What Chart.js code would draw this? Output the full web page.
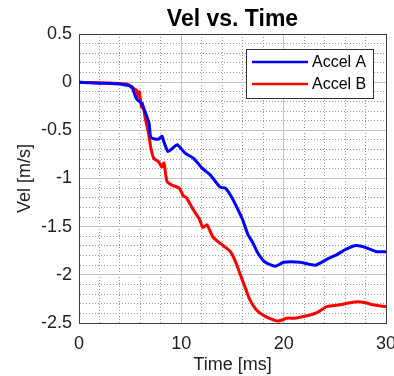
<!DOCTYPE html>
<html><head><meta charset="utf-8">
<script src="https://cdn.jsdelivr.net/npm/chart.js@4/dist/chart.umd.min.js"></script>
<style>html,body{margin:0;padding:0;background:#fff}#wrap{width:394px;height:376px}</style>
</head><body><div id="wrap"><canvas id="c" width="394" height="376"></canvas></div>
<script>
const chartTitle = 'Vel vs. Time';
const xTitle = 'Time [ms]';
const yTitle = 'Vel [m/s]';
const seriesNames = ['Accel A', 'Accel B'];
const timeA = [0, 2, 4, 5, 5.2, 5.6, 6.1, 6.5, 6.85, 7.0, 7.4, 7.8, 8.1, 8.3, 8.7, 9.1, 9.6, 10.4, 11.2, 12.0, 12.8, 13.8, 14.3, 14.95, 15.7, 16.0, 16.5, 17.0, 17.4, 18.0, 18.4, 19.2, 20.0, 21.6, 23.1, 24.2, 25.2, 26.0, 26.8, 27.5, 28.1, 29.1, 30];
const velA = [0, -0.01, -0.02, -0.04, -0.05, -0.17, -0.22, -0.32, -0.43, -0.57, -0.59, -0.59, -0.56, -0.62, -0.72, -0.69, -0.65, -0.74, -0.79, -0.89, -0.96, -1.09, -1.10, -1.20, -1.36, -1.43, -1.58, -1.67, -1.76, -1.85, -1.88, -1.91, -1.87, -1.87, -1.90, -1.84, -1.79, -1.74, -1.70, -1.70, -1.72, -1.76, -1.76];
const timeB = [0, 4.7, 5.2, 5.6, 5.8, 5.9, 6.1, 6.2, 6.5, 6.8, 7.0, 7.3, 7.8, 8.1, 8.3, 8.6, 9.1, 9.8, 10.2, 10.5, 11.2, 11.8, 12.1, 12.5, 13.1, 14.0, 14.8, 15.2, 15.7, 16.2, 16.7, 17.3, 18.0, 18.8, 19.5, 20.3, 21.0, 21.6, 22.5, 23.3, 24.2, 25.5, 26.5, 27.2, 28.0, 28.7, 30];
const velB = [0, -0.02, -0.06, -0.08, -0.15, -0.10, -0.26, -0.22, -0.39, -0.53, -0.67, -0.79, -0.83, -0.88, -0.84, -1.03, -1.07, -1.10, -1.18, -1.20, -1.33, -1.43, -1.51, -1.48, -1.61, -1.69, -1.76, -1.84, -1.98, -2.12, -2.26, -2.36, -2.42, -2.46, -2.48, -2.45, -2.45, -2.44, -2.42, -2.39, -2.33, -2.31, -2.29, -2.28, -2.29, -2.31, -2.33];
const colors = ['#0000ff', '#ff0000'];

const FONT = '"Liberation Sans", Arial, sans-serif';
const isMajor = (v, step) => Math.abs(v / step - Math.round(v / step)) < 1e-6;

const pairs = (t, v) => t.map((x, i) => ({x: x, y: v[i]}));

const overlay = {
  id: 'overlay',
  afterDraw(chart) {
    const ctx = chart.ctx, a = chart.chartArea;
    ctx.save();
    ctx.fillStyle = '#000';
    ctx.font = 'bold 23px ' + FONT;
    ctx.textAlign = 'center';
    ctx.textBaseline = 'alphabetic';
    ctx.fillText(chartTitle, (a.left + a.right) / 2, a.top - 8);
    const bw = 127, bh = 49;
    const bx = a.right - 13 - bw, by = a.top + 15;
    ctx.fillStyle = '#fff';
    ctx.fillRect(bx, by, bw, bh);
    ctx.strokeStyle = '#333';
    ctx.lineWidth = 1;
    ctx.strokeRect(bx + 0.5, by + 0.5, bw, bh);
    ctx.font = '16px ' + FONT;
    ctx.textAlign = 'left';
    ctx.textBaseline = 'middle';
    seriesNames.forEach((n, i) => {
      const yy = by + 13 + i * 22;
      ctx.strokeStyle = colors[i];
      ctx.lineWidth = 2.5;
      ctx.beginPath();
      ctx.moveTo(bx + 6, yy);
      ctx.lineTo(bx + 62, yy);
      ctx.stroke();
      ctx.fillStyle = '#000';
      ctx.fillText(n, bx + 66, yy + 1);
    });
    ctx.restore();
  }
};

function gridColor(step, minV, maxV) {
  return (c) => {
    const v = c.tick ? c.tick.value : 0;
    if (Math.abs(v - minV) < 1e-6 || Math.abs(v - maxV) < 1e-6) return '#3c3c3c';
    return isMajor(v, step) ? '#c4c4c4' : '#9a9a9a';
  };
}
function gridDash(step, minV, maxV) {
  return (c) => {
    const v = c.tick ? c.tick.value : 0;
    if (Math.abs(v - minV) < 1e-6 || Math.abs(v - maxV) < 1e-6) return [];
    return isMajor(v, step) ? [] : [1, 2];
  };
}

new Chart(document.getElementById('c'), {
  type: 'line',
  data: {
    datasets: [
      {label: seriesNames[0], data: pairs(timeA, velA), borderColor: colors[0], borderWidth: 3, pointRadius: 0, fill: false, tension: 0.2},
      {label: seriesNames[1], data: pairs(timeB, velB), borderColor: colors[1], borderWidth: 3, pointRadius: 0, fill: false, tension: 0.2}
    ]
  },
  options: {
    responsive: false,
    animation: false,
    layout: {padding: {top: 34, right: 8, left: 0, bottom: 0}},
    plugins: {legend: {display: false}, title: {display: false}, tooltip: {enabled: false}},
    scales: {
      x: {
        type: 'linear', min: 0, max: 30,
        ticks: {stepSize: 2, autoSkip: false, maxRotation: 0, color: '#222', font: {family: FONT, size: 18}, padding: 10,
          callback: (v) => isMajor(v, 10) ? String(v) : ''},
        grid: {color: gridColor(10, 0, 30), lineWidth: 1, drawTicks: false},
        border: {display: true, color: '#3c3c3c', dash: gridDash(10, 0, 30)},
        title: {display: true, text: xTitle, color: '#222', font: {family: FONT, size: 18}, padding: {top: 2, bottom: 0}},
        afterFit: (s) => { s.height = 53; s.paddingRight = 0; s.paddingLeft = 0; }
      },
      y: {
        type: 'linear', min: -2.5, max: 0.5,
        ticks: {stepSize: 0.1, autoSkip: false, color: '#222', font: {family: FONT, size: 18}, padding: 7,
          callback: (v) => isMajor(v, 0.5) ? String(Math.round(v * 10) / 10) : ''},
        grid: {color: gridColor(0.5, -2.5, 0.5), lineWidth: 1, drawTicks: false},
        border: {display: true, color: '#3c3c3c', dash: gridDash(0.5, -2.5, 0.5)},
        title: {display: true, text: yTitle, color: '#222', font: {family: FONT, size: 18}, padding: {top: 14, bottom: 4}},
        afterFit: (s) => { s.width = 79; }
      }
    }
  },
  plugins: [overlay]
});
</script>
</body></html>
